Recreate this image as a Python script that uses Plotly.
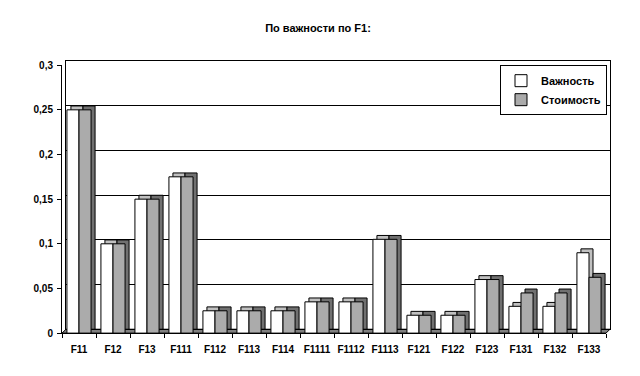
import plotly.graph_objects as go

categories = ["F11", "F12", "F13", "F111", "F112", "F113", "F114", "F1111",
              "F1112", "F1113", "F121", "F122", "F123", "F131", "F132", "F133"]
importance = [0.25, 0.10, 0.15, 0.175, 0.025, 0.025, 0.025, 0.035,
              0.035, 0.105, 0.02, 0.02, 0.06, 0.03, 0.03, 0.09]
cost = [0.25, 0.10, 0.15, 0.175, 0.025, 0.025, 0.025, 0.035,
        0.035, 0.105, 0.02, 0.02, 0.06, 0.045, 0.045, 0.0625]
series_names = ["Важность", "Стоимость"]
title_text = "По важности по F1:"
y_ticks = [0, 0.05, 0.1, 0.15, 0.2, 0.25, 0.3]

W, H = 640, 376
DEPTH = 4
# front plot area (pixels)
fx0, fx1, fy_top, fy_bot = 62, 606, 62, 338

def xd(a, b):
    return [a / W, b / W]

def yd(top, bot):
    return [1 - bot / H, 1 - top / H]

FONT = "Liberation Sans, Arial, sans-serif"
BFONT = dict(family=FONT, size=10, color="black", weight="bold")

fig = go.Figure()

# depth (3D side/top faces) drawn on back subplot, shifted by DEPTH px
fig.add_trace(go.Bar(x=categories, y=importance, xaxis="x", yaxis="y",
                     marker=dict(color="#c0c0c0", line=dict(color="black", width=1)),
                     showlegend=False, hoverinfo="skip", offsetgroup="a"))
fig.add_trace(go.Bar(x=categories, y=cost, xaxis="x", yaxis="y",
                     marker=dict(color="#707070", line=dict(color="black", width=1)),
                     showlegend=False, hoverinfo="skip", offsetgroup="b"))

# front bars
fig.add_trace(go.Bar(x=categories, y=importance, xaxis="x2", yaxis="y2", name=series_names[0],
                     marker=dict(color="white", line=dict(color="black", width=1)),
                     offsetgroup="a"))
fig.add_trace(go.Bar(x=categories, y=cost, xaxis="x2", yaxis="y2", name=series_names[1],
                     marker=dict(color="white", line=dict(color="black", width=1),
                                 pattern=dict(shape=".", size=2, solidity=0.5,
                                              fgcolor="#404040", bgcolor="white",
                                              fillmode="replace")),
                     offsetgroup="b"))

# floor strip
fig.add_shape(type="path",
              path=f"M {fx0/W},{1-fy_bot/H} L {(fx0+DEPTH)/W},{1-(fy_bot-DEPTH)/H} "
                   f"L {(fx1+DEPTH)/W},{1-(fy_bot-DEPTH)/H} L {fx1/W},{1-fy_bot/H} Z",
              xref="paper", yref="paper", fillcolor="#808080",
              line=dict(color="black", width=1), layer="below")

fig.update_layout(
    width=W, height=H,
    margin=dict(l=0, r=0, t=0, b=0),
    paper_bgcolor="white", plot_bgcolor="rgba(0,0,0,0)",
    separators=", ",
    barmode="group", bargap=0.29, bargroupgap=0,
    font=BFONT,
    title=dict(text=title_text, x=318 / W, xanchor="center",
               y=1 - 28 / H, yanchor="middle",
               font=dict(family=FONT, size=11, color="black", weight="bold")),
    xaxis=dict(domain=xd(fx0 + DEPTH, fx1 + DEPTH), anchor="y", showticklabels=False,
               ticks="", showgrid=False, showline=True, linecolor="black", mirror=True,
               zeroline=False),
    yaxis=dict(domain=yd(fy_top - DEPTH, fy_bot - DEPTH), anchor="x", range=[0, 0.3],
               tickvals=y_ticks, showticklabels=False, ticks="", showgrid=True,
               gridcolor="black", gridwidth=1, showline=True, linecolor="black",
               mirror=True, zeroline=False),
    xaxis2=dict(domain=xd(fx0, fx1), anchor="y2", ticks="outside", tickson="boundaries",
                ticklen=4, tickcolor="black", showline=True, linecolor="black",
                showgrid=False, tickfont=BFONT, tickangle=0, ticklabelstandoff=7),
    yaxis2=dict(domain=yd(fy_top, fy_bot), anchor="x2", range=[0, 0.3], tickvals=y_ticks,
                ticks="outside", ticklen=4, tickcolor="black", showline=True,
                linecolor="black", showgrid=False, zeroline=False, tickfont=BFONT,
                ticklabelstandoff=2),
    legend=dict(x=607 / W, xanchor="right", y=1 - 62 / H, yanchor="top",
                bordercolor="black", borderwidth=1, bgcolor="white",
                font=dict(family=FONT, size=11, color="black", weight="bold"),
                itemwidth=30, tracegroupgap=0),
)

fig.write_html("out.html")
